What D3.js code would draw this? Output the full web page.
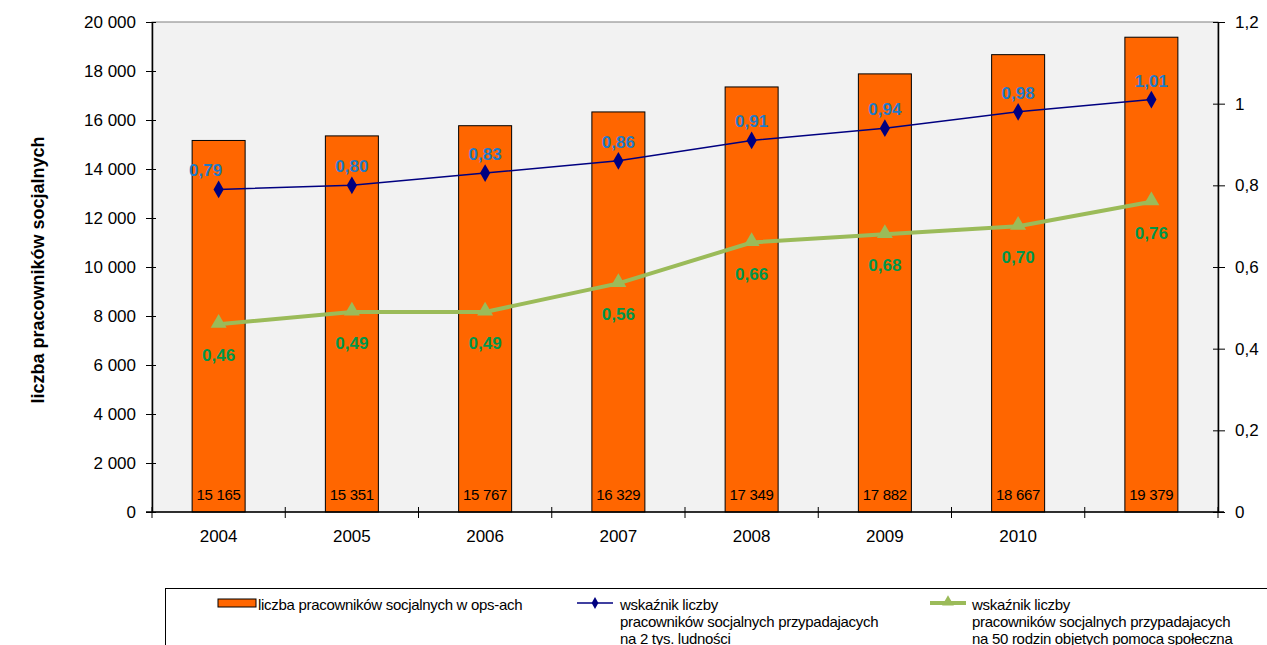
<!DOCTYPE html>
<html>
<head>
<meta charset="utf-8">
<script src="https://cdn.jsdelivr.net/npm/d3@7"></script>
<style>
  body { margin: 0; background: #ffffff; }
  svg { font-family: Arial, "Liberation Sans", sans-serif; }
</style>
</head>
<body>
<svg id="chart" width="1267" height="645"></svg>
<script>
const years = ["2004", "2005", "2006", "2007", "2008", "2009", "2010", "2011"];
const yearLabels = ["2004", "2005", "2006", "2007", "2008", "2009", "2010", ""];
const workers = [15165, 15351, 15767, 16329, 17349, 17882, 18667, 19379];
const perPopulation = [0.79, 0.80, 0.83, 0.86, 0.91, 0.94, 0.98, 1.01];
const perFamilies = [0.46, 0.49, 0.49, 0.56, 0.66, 0.68, 0.70, 0.76];
const leftTicks = [0, 2000, 4000, 6000, 8000, 10000, 12000, 14000, 16000, 18000, 20000];
const rightTicks = [0, 0.2, 0.4, 0.6, 0.8, 1, 1.2];

const svg = d3.select("#chart");
const plotLeft = 152, plotRight = 1218, plotTop = 22, plotBottom = 512;

const xBand = d3.scaleBand().domain(years).range([plotLeft, plotRight]);
const yLeft = d3.scaleLinear().domain([0, 20000]).range([plotBottom, plotTop]);
const yRight = d3.scaleLinear().domain([0, 1.2]).range([plotBottom, plotTop]);

const fmtSpace = v => d3.format(",")(v).replace(/,/g, " ");
const fmtComma = v => (v === 0 || v === 1) ? String(v) : String(v).replace(".", ",");
const fmt2 = v => v.toFixed(2).replace(".", ",");
const cx = i => xBand(years[i]) + xBand.bandwidth() / 2;

// plot background
svg.append("rect")
   .attr("x", plotLeft).attr("y", plotTop)
   .attr("width", plotRight - plotLeft).attr("height", plotBottom - plotTop)
   .attr("fill", "#f2f2f2")
   .attr("stroke", "#808080")
   .attr("stroke-width", 1);

// bars
svg.append("g").selectAll("rect")
   .data(workers)
   .join("rect")
   .attr("x", (d, i) => cx(i) - 26.5)
   .attr("y", d => yLeft(d))
   .attr("width", 53)
   .attr("height", d => plotBottom - yLeft(d))
   .attr("fill", "#ff6600")
   .attr("stroke", "#000000")
   .attr("stroke-width", 1);

svg.append("g").selectAll("text")
   .data(workers)
   .join("text")
   .attr("x", (d, i) => cx(i))
   .attr("y", 500)
   .attr("text-anchor", "middle")
   .attr("font-size", 15)
   .attr("letter-spacing", -0.3)
   .attr("fill", "#000000")
   .text(d => fmtSpace(d));

// axes
const axisLeft = d3.axisLeft(yLeft).tickValues(leftTicks).tickSize(6).tickSizeOuter(0).tickFormat(fmtSpace);
const gLeft = svg.append("g").attr("transform", `translate(${plotLeft},0)`).call(axisLeft);
gLeft.selectAll(".tick line").attr("x1", 4).attr("x2", -6);
gLeft.selectAll("text").attr("font-size", 17).attr("font-family", "Arial, 'Liberation Sans', sans-serif").attr("fill", "#000").attr("x", -16);
gLeft.select(".domain").attr("stroke", "#000").attr("stroke-width", 1.5);

const axisRight = d3.axisRight(yRight).tickValues(rightTicks).tickSize(6).tickSizeOuter(0).tickFormat(fmtComma);
const gRight = svg.append("g").attr("transform", `translate(${plotRight},0)`).call(axisRight);
gRight.selectAll(".tick line").attr("x1", -5).attr("x2", 7);
gRight.selectAll("text").attr("font-size", 17).attr("font-family", "Arial, 'Liberation Sans', sans-serif").attr("fill", "#000").attr("x", 17);
gRight.select(".domain").attr("stroke", "#000").attr("stroke-width", 1.5);

// x axis
svg.append("line")
   .attr("x1", plotLeft - 6).attr("x2", plotRight + 6)
   .attr("y1", plotBottom).attr("y2", plotBottom)
   .attr("stroke", "#000").attr("stroke-width", 1.5);
svg.append("g").selectAll("line")
   .data(years.concat(["end"]))
   .join("line")
   .attr("x1", (d, i) => plotLeft + i * xBand.bandwidth())
   .attr("x2", (d, i) => plotLeft + i * xBand.bandwidth())
   .attr("y1", plotBottom - 5).attr("y2", plotBottom + 6)
   .attr("stroke", "#000").attr("stroke-width", 1);
svg.append("g").selectAll("text")
   .data(yearLabels)
   .join("text")
   .attr("x", (d, i) => cx(i))
   .attr("y", 542)
   .attr("text-anchor", "middle")
   .attr("font-size", 17)
   .text(d => d);

// y title
svg.append("text")
   .attr("transform", "translate(44,270) rotate(-90)")
   .attr("text-anchor", "middle")
   .attr("font-size", 18)
   .attr("font-weight", "bold")
   .text("liczba pracowników socjalnych");

// green line
svg.append("path")
   .datum(perFamilies)
   .attr("d", d3.line().x((d, i) => cx(i)).y(d => yRight(d)))
   .attr("fill", "none")
   .attr("stroke", "#9bbb59")
   .attr("stroke-width", 4);
svg.append("g").selectAll("path")
   .data(perFamilies)
   .join("path")
   .attr("d", d3.symbol().type(d3.symbolTriangle).size(110))
   .attr("transform", (d, i) => `translate(${cx(i)},${yRight(d) - 1})`)
   .attr("fill", "#9bbb59");
svg.append("g").selectAll("text")
   .data(perFamilies)
   .join("text")
   .attr("x", (d, i) => cx(i))
   .attr("y", d => yRight(d) + 37)
   .attr("text-anchor", "middle")
   .attr("font-size", 17)
   .attr("font-weight", "bold")
   .attr("fill", "#00964b")
   .text(d => fmt2(d));

// blue line
svg.append("path")
   .datum(perPopulation)
   .attr("d", d3.line().x((d, i) => cx(i)).y(d => yRight(d)))
   .attr("fill", "none")
   .attr("stroke", "#000080")
   .attr("stroke-width", 1.5);
svg.append("g").selectAll("path")
   .data(perPopulation)
   .join("path")
   .attr("d", d3.symbol().type(d3.symbolDiamond).size(90))
   .attr("transform", (d, i) => `translate(${cx(i)},${yRight(d)})`)
   .attr("fill", "#000080");
svg.append("g").selectAll("text")
   .data(perPopulation)
   .join("text")
   .attr("x", (d, i) => cx(i) - (i === 0 ? 13 : 0))
   .attr("y", d => yRight(d) - 13)
   .attr("text-anchor", "middle")
   .attr("font-size", 17)
   .attr("font-weight", "bold")
   .attr("fill", "#1f7ac6")
   .text(d => fmt2(d));

// legend
const legend = svg.append("g");
legend.append("rect")
   .attr("x", 165.5).attr("y", 588.5)
   .attr("width", 1120).attr("height", 80)
   .attr("fill", "#ffffff").attr("stroke", "#000").attr("stroke-width", 1);

legend.append("rect")
   .attr("x", 218).attr("y", 599).attr("width", 38).attr("height", 8)
   .attr("fill", "#ff6600").attr("stroke", "#000").attr("stroke-width", 1);

legend.append("line")
   .attr("x1", 577).attr("x2", 613).attr("y1", 603).attr("y2", 603)
   .attr("stroke", "#000080").attr("stroke-width", 1.5);
legend.append("path")
   .attr("d", d3.symbol().type(d3.symbolDiamond).size(40))
   .attr("transform", "translate(595,603)")
   .attr("fill", "#000080");

legend.append("line")
   .attr("x1", 930).attr("x2", 966).attr("y1", 603).attr("y2", 603)
   .attr("stroke", "#9bbb59").attr("stroke-width", 4);
legend.append("path")
   .attr("d", d3.symbol().type(d3.symbolTriangle).size(60))
   .attr("transform", "translate(948,602)")
   .attr("fill", "#9bbb59");

const legendTexts = [
  { x: 258, lines: ["liczba pracowników socjalnych w ops-ach"] },
  { x: 620, lines: ["wskaźnik liczby", "pracowników socjalnych przypadajacych", "na 2 tys. ludności"] },
  { x: 972, lines: ["wskaźnik liczby", "pracowników socjalnych przypadajacych", "na 50 rodzin objetych pomoca społeczna"] }
];
legendTexts.forEach(item => {
  const t = legend.append("text")
     .attr("x", item.x).attr("y", 610)
     .attr("font-size", 15)
     .attr("letter-spacing", -0.3);
  item.lines.forEach((line, j) => {
    t.append("tspan").attr("x", item.x).attr("dy", j === 0 ? 0 : 17).text(line);
  });
});
</script>
</body>
</html>
